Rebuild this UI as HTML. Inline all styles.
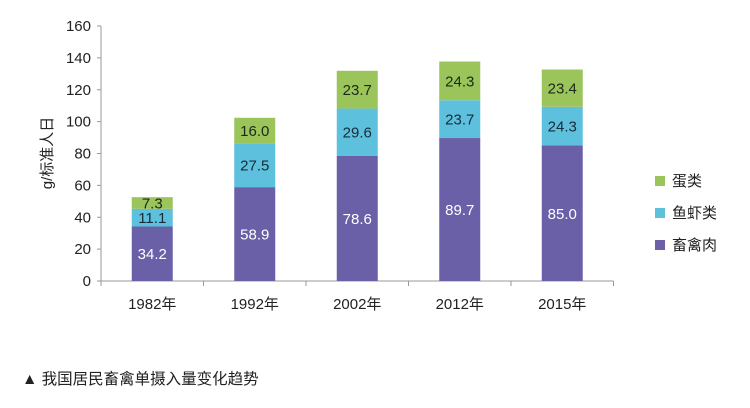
<!DOCTYPE html>
<html><head><meta charset="utf-8"><style>
body{margin:0;background:#fff;width:750px;height:403px;overflow:hidden;font-family:"Liberation Sans","Noto Sans CJK SC",sans-serif}
</style></head><body>
<svg width="750" height="403" xmlns="http://www.w3.org/2000/svg" font-family="Liberation Sans, Noto Sans CJK SC, sans-serif">
<g id="axes"></g><g id="bars"></g>
<text x="52" y="153" transform="rotate(-90 52 153)" text-anchor="middle" font-size="15" fill="#222">g/标准人日</text>
<g>
<rect x="655" y="176" width="10" height="10" fill="#9bc45a"/>
<text x="672" y="186" font-size="15" fill="#222">蛋类</text>
<rect x="655" y="208" width="10" height="10" fill="#5dc1dd"/>
<text x="672" y="218" font-size="15" fill="#222">鱼虾类</text>
<rect x="655" y="240" width="10" height="10" fill="#6a60a8"/>
<text x="672" y="250" font-size="15" fill="#222">畜禽肉</text>
</g>
<text x="22" y="384" font-size="15.5" fill="#222">▲ 我国居民畜禽单摄入量变化趋势</text>
</svg>
<script>
const categories=["1982年","1992年","2002年","2012年","2015年"];
const meat=[34.2,58.9,78.6,89.7,85.0];
const fish=[11.1,27.5,29.6,23.7,24.3];
const egg=[7.3,16.0,23.7,24.3,23.4];
const yTicks=[0,20,40,60,80,100,120,140,160];
const NS="http://www.w3.org/2000/svg";
const x0=101,band=102.5,y0=281,yTop=26,yMax=160;
const y=v=>y0-(v/yMax)*(y0-yTop);
const xc=i=>x0+band*(i+0.5);
const axes=document.getElementById('axes'),bars=document.getElementById('bars');
function mk(tag,attrs,parent,txt){const e=document.createElementNS(NS,tag);for(const k in attrs)e.setAttribute(k,attrs[k]);if(txt!==undefined)e.textContent=txt;parent.appendChild(e);return e;}
let l=mk('line',{x1:x0,y1:yTop,x2:x0,y2:y0,stroke:'#999'},axes);


l=mk('line',{x1:x0,y1:y0,x2:x0+band*categories.length,y2:y0,stroke:'#999'},axes);


yTicks.forEach(t=>{
 const tk=mk('line',{x1:x0-4,y1:y(t),x2:x0,y2:y(t),stroke:'#999'},axes);
 
 
 const tx=mk('text',{x:x0-10,y:y(t)+5,'text-anchor':'end','font-size':15,fill:'#222'},axes,String(t));
 
 
});
for(let i=0;i<=categories.length;i++){
 const tk=mk('line',{x1:x0+band*i,y1:y0,x2:x0+band*i,y2:y0+5,stroke:'#999'},axes);
 
 
}
const series=[[meat,'#6a60a8','#fff','meat'],[fish,'#5dc1dd','#1a2a3a','fish'],[egg,'#9bc45a','#1a2a1a','egg']];
categories.forEach((c,i)=>{
 const lab=mk('text',{x:xc(i),y:y0+28,'text-anchor':'middle','font-size':15,fill:'#222'},axes,c);
 
 
 let base=0;const w=41;
 series.forEach(([arr,col,tc,nm])=>{
  const v=arr[i];
  const r=mk('rect',{x:xc(i)-w/2,y:y(base+v),width:w,height:y(base)-y(base+v),fill:col},bars);
  
  
  const t=mk('text',{x:xc(i),y:(y(base)+y(base+v))/2+5.5,'text-anchor':'middle','font-size':15,fill:tc},bars,v.toFixed(1));
  
  
  base+=v;
 });
});
</script>
</body></html>
